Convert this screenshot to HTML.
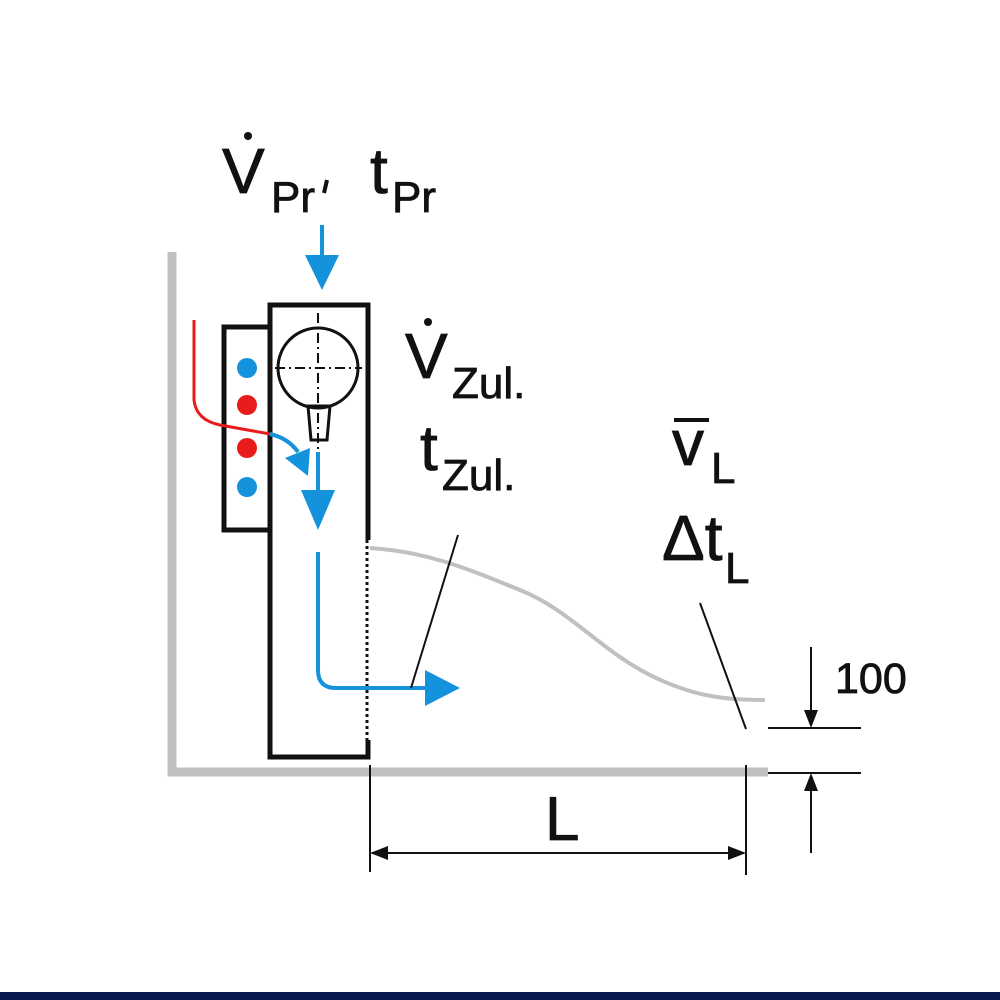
<!DOCTYPE html>
<html><head><meta charset="utf-8"><style>html,body{margin:0;padding:0;background:#fff}svg{display:block}</style></head>
<body>
<svg width="1000" height="1000" viewBox="0 0 1000 1000" xmlns="http://www.w3.org/2000/svg" font-family="Liberation Sans, sans-serif" fill="#111">
<rect x="0" y="0" width="1000" height="1000" fill="#fff"/>
<rect x="0" y="992" width="1000" height="8" fill="#0a1a50"/>
<path d="M172 252 V772 H768" fill="none" stroke="#c0c0c0" stroke-width="9"/>
<path d="M370 548 C430 552 470 570 520 590 C570 610 600 650 650 675 C690 695 720 700 765 700" fill="none" stroke="#c0c0c0" stroke-width="4"/>
<rect x="224" y="327" width="46" height="203" fill="none" stroke="#111" stroke-width="5"/>
<path d="M368 540 V305 H270 V757 H368 V740" fill="#fff" stroke="#111" stroke-width="5"/>
<line x1="367" y1="540" x2="367" y2="740" stroke="#111" stroke-width="3" stroke-dasharray="3 3"/>
<circle cx="318" cy="368" r="40" fill="none" stroke="#111" stroke-width="3"/>
<path d="M308 406 H330 L327 440 H311 Z" fill="none" stroke="#111" stroke-width="3"/>
<line x1="318" y1="313" x2="318" y2="470" stroke="#111" stroke-width="2" stroke-dasharray="10 4 2 4"/>
<line x1="275" y1="368" x2="362" y2="368" stroke="#111" stroke-width="2" stroke-dasharray="10 4 2 4"/>
<circle cx="247" cy="368" r="10" fill="#1592dc"/>
<circle cx="247" cy="405" r="10" fill="#e81c1c"/>
<circle cx="247" cy="448" r="10" fill="#e81c1c"/>
<circle cx="247" cy="487" r="10" fill="#1592dc"/>
<path d="M194 320 V400 Q196 420 220 425 L270 434" fill="none" stroke="#e81c1c" stroke-width="3"/>
<path d="M270 434 Q288 438 298 452" fill="none" stroke="#1592dc" stroke-width="4"/>
<polygon points="285,458 310,448 308,476" fill="#1592dc"/>
<line x1="322" y1="225" x2="322" y2="260" stroke="#1592dc" stroke-width="4"/>
<polygon points="305,255 339,255 322,290" fill="#1592dc"/>
<line x1="318" y1="452" x2="318" y2="495" stroke="#1592dc" stroke-width="4"/>
<polygon points="301,490 335,490 318,530" fill="#1592dc"/>
<path d="M318 552 V670 Q318 688 336 688 H430" fill="none" stroke="#1592dc" stroke-width="4"/>
<polygon points="425,670 425,706 460,688" fill="#1592dc"/>
<line x1="458" y1="535" x2="411" y2="688" stroke="#111" stroke-width="2"/>
<line x1="700" y1="603" x2="746" y2="729" stroke="#111" stroke-width="2"/>
<line x1="768" y1="728" x2="861" y2="728" stroke="#111" stroke-width="2"/>
<line x1="768" y1="773" x2="861" y2="773" stroke="#111" stroke-width="2"/>
<line x1="811" y1="647" x2="811" y2="712" stroke="#111" stroke-width="2"/>
<polygon points="804,710 818,710 811,728" fill="#111"/>
<line x1="811" y1="790" x2="811" y2="853" stroke="#111" stroke-width="2"/>
<polygon points="804,791 818,791 811,773" fill="#111"/>
<line x1="370" y1="765" x2="370" y2="872" stroke="#111" stroke-width="2"/>
<line x1="746" y1="765" x2="746" y2="875" stroke="#111" stroke-width="2"/>
<line x1="372" y1="853" x2="744" y2="853" stroke="#111" stroke-width="2"/>
<polygon points="370,853 388,846 388,860" fill="#111"/>
<polygon points="746,853 728,846 728,860" fill="#111"/>
<g stroke="#111" stroke-width="0.8">
<text x="835" y="693" font-size="43">100</text>
<text x="545" y="840" font-size="62">L</text>
<text x="222" y="193" font-size="64">V</text>
<text x="271" y="212" font-size="44">Pr</text>
<text x="370" y="193" font-size="64">t</text>
<text x="392" y="212" font-size="44">Pr</text>
<text x="405" y="378" font-size="64">V</text>
<text x="452" y="398" font-size="44">Zul.</text>
<text x="420" y="470" font-size="64">t</text>
<text x="442" y="490" font-size="44">Zul.</text>
<text x="672" y="465" font-size="64">v</text>
<text x="711" y="483" font-size="44">L</text>
<text x="662" y="560" font-size="64">Δt</text>
<text x="725" y="583" font-size="44">L</text>
</g>
<path d="M327 180 L324 193" stroke="#111" stroke-width="4" fill="none"/>
<circle cx="248" cy="136" r="4"/>
<circle cx="428" cy="322" r="4"/>
<rect x="674" y="418" width="35" height="4"/>
</svg>
</body></html>
